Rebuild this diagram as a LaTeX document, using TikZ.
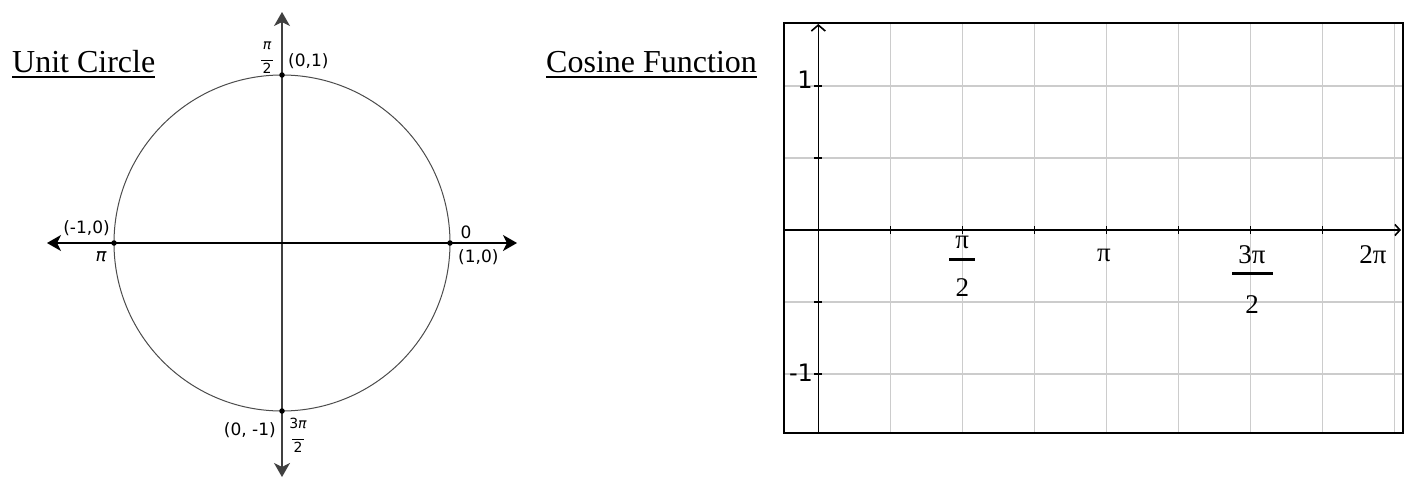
\documentclass[tikz,border=0pt]{standalone}
\usepackage{fontspec}
\newfontfamily\dv{DejaVu Sans}
\newfontfamily\ls{Liberation Serif}
\usetikzlibrary{arrows.meta}
\newcommand\smallfrac[2]{\begin{tabular}{@{}c@{}}#1\\[-3pt]\rule{0.8em}{0.6pt}\\[-3pt]#2\end{tabular}}
\begin{document}
\begin{tikzpicture}[x=1pt,y=-1pt,
  title/.style={anchor=base west,inner sep=0pt,font=\ls\fontsize{32}{36}\selectfont},
  uline/.style={line width=1.6pt},
  circ/.style={line width=1pt,draw=black!70},
  dot/.style={circle,fill=black,inner sep=0pt,minimum size=5.5pt},
  ucaxis/.style={line width=1.1pt,{Stealth[length=14pt,width=16pt,inset=4pt]}-{Stealth[length=14pt,width=16pt,inset=4pt]}},
  uclab/.style={inner sep=0pt,font=\dv\fontsize{17}{19}\selectfont},
  fraclab/.style={inner sep=0pt,font=\dv\fontsize{14}{15}\selectfont},
  gridl/.style={line width=1.6pt,draw=black!20},
  box/.style={line width=2pt},
  gaxis/.style={line width=1.6pt},
  gtick/.style={line width=1.2pt},
  ylab/.style={inner sep=0pt,font=\dv\fontsize{24}{26}\selectfont},
  xlab/.style={inner sep=0pt,font=\ls\fontsize{27}{29}\selectfont},
  fbar/.style={line width=3pt}]
\useasboundingbox (0,0) rectangle (1407,479);

% ---------- Unit circle ----------
\node[title] (t1) at (12,72) {Unit Circle};
\draw[uline] ([yshift=-5pt]t1.base west) -- ([yshift=-5pt]t1.base east);

\coordinate (O) at (282,243);
\draw[circ] (O) circle[radius=168];
\coordinate (vt) at (282,12);
\coordinate (vb) at (282,477);
\coordinate (hl) at (47,243);
\coordinate (hr) at (517,243);
\draw[ucaxis,black!75] (vb) -- (vt);
\draw[ucaxis] (hl) -- (hr);

\node[dot] (p0) at (450,243) {};
\node[dot] (p1) at (282,75) {};
\node[dot] (p2) at (114,243) {};
\node[dot] (p3) at (282,411) {};

\node[uclab,anchor=west] (l1) at (288,61) {(0,1)};
\node[fraclab] (f1) at (267,58) {\smallfrac{\itshape π}{2}};
\node[uclab,anchor=east] (l2) at (110,228) {(-1,0)};
\node[uclab,font=\dv\itshape\fontsize{18}{19}\selectfont] (l2b) at (101,257) {π};
\node[uclab] (l0) at (466,232) {0};
\node[uclab,anchor=west] (l0b) at (458,257) {(1,0)};
\node[uclab,anchor=east] (l3) at (276,430) {(0, -1)};
\node[fraclab] (f3) at (298,437) {\smallfrac{3\itshape π}{2}};

% ---------- Cosine function ----------
\node[title] (t2) at (546,72) {Cosine Function};
\draw[uline] ([yshift=-5pt]t2.base west) -- ([yshift=-5pt]t2.base east);

\foreach \k in {1,...,8} {
  \draw[gridl] ({818.3+72*\k},22.7) -- ({818.3+72*\k},433.3);
}
\foreach \yy in {86,158,302,374} {
  \draw[gridl] (784,\yy) -- (1402.7,\yy);
}
\draw[box] (784,22.7) rectangle (1402.7,433.3);

\coordinate (ya) at (818.3,433.3);
\coordinate (yb) at (818.3,24);
\coordinate (xa) at (784,230);
\coordinate (xb) at (1401,230);
\draw[gaxis,-{Straight Barb[length=6pt,width=14pt]}] (ya) -- (yb);
\draw[gaxis,-{Straight Barb[length=5pt,width=11pt]}] (xa) -- (xb);

\foreach \k in {1,...,7} {
  \draw[gtick] ({818.3+72*\k},226) -- ({818.3+72*\k},234);
}
\foreach \yy in {86,158,302,374} {
  \draw[gtick] (814.3,\yy) -- (822.3,\yy);
}

\node[ylab] (y1) at (805,80) {1};
\node[ylab] (ym1) at (801,373) {-1};

\node[xlab] (n1) at (962.3,242) {π};
\draw[fbar] (949,259) -- (975,259);
\node[xlab] (d1) at (962.3,288) {2};

\node[xlab] (n2) at (1104,255) {π};

\node[xlab] (n3) at (1252,255) {3π};
\draw[fbar] (1232,273) -- (1273,273);
\node[xlab] (d3) at (1252,305) {2};

\node[xlab] (n4) at (1373,255) {2π};
\end{tikzpicture}
\end{document}
